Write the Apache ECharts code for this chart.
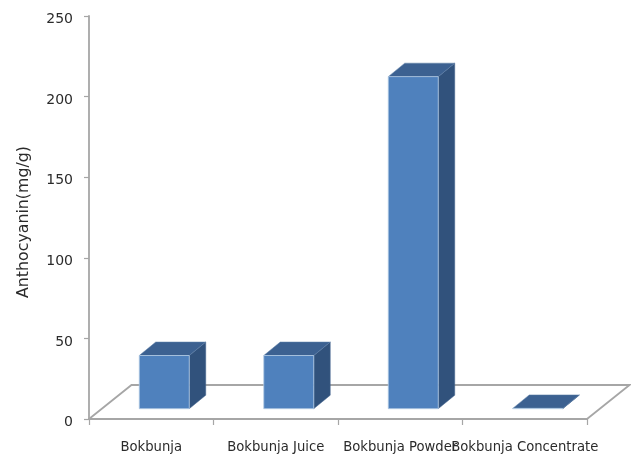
<!DOCTYPE html>
<html>
<head>
<meta charset="utf-8">
<style>html,body{margin:0;padding:0;background:#fff}#c{width:631px;height:454px}</style>
<script src="https://cdn.jsdelivr.net/npm/echarts@6/dist/echarts.min.js"></script>
</head>
<body>
<div id="c"></div>
<script>
const categories = ["Bokbunja", "Bokbunja Juice", "Bokbunja Powder", "Bokbunja Concentrate"];
const anthocyanin = [33, 33, 206, 0.2];
const yTicks = { min: 0, max: 250, interval: 50 };
const yName = "Anthocyanin(mg/g)";

const chart = echarts.init(document.getElementById('c'), null, { renderer: 'canvas' });
const barW = 50, barShift = 13, liftY = 10.3, dx = 16.5, dy = 13.5, floorDx = 42.5, floorDy = 34;
const axisGrey = '#a6a6a6';
const textCol = '#2b2b2b';
const font = 'DejaVu Sans';

function renderFloor(params) {
  const g = params.coordSys;
  const yb = g.y + g.height;
  return {
    type: 'polyline', silent: true,
    shape: { points: [[g.x, yb], [g.x + floorDx, yb - floorDy], [g.x + g.width + floorDx, yb - floorDy], [g.x + g.width, yb]] },
    style: { fill: null, stroke: axisGrey, lineWidth: 1.8 }
  };
}
function renderBar(params, api) {
  const idx = api.value(0), top = api.coord([idx, api.value(1)]), base = api.coord([idx, 0]);
  const x0 = top[0] + barShift - barW / 2, x1 = x0 + barW;
  const yt = top[1] - liftY, yb = base[1] - liftY;
  const children = [];
  children.push({ type: 'polygon', shape: { points: [[x1, yt], [x1 + dx, yt - dy], [x1 + dx, yb - dy], [x1, yb]] },
    style: { fill: '#31527c', stroke: '#4a6a92', lineWidth: 0.5 } });
  children.push({ type: 'polygon', shape: { points: [[x0, yt], [x0 + dx, yt - dy], [x1 + dx, yt - dy], [x1, yt]] },
    style: { fill: '#3c6191', stroke: '#5f80a8', lineWidth: 0.5 } });
  children.push({ type: 'rect', shape: { x: x0, y: yt, width: barW, height: yb - yt },
    style: { fill: '#4f81bd', stroke: '#b4cbe4', lineWidth: 0.8 } });
  return { type: 'group', children };
}

chart.setOption({
  animation: false,
  backgroundColor: '#fff',
  grid: { left: 89, right: 44, top: 16, bottom: 35, containLabel: false, outerBoundsMode: 'none' },
  xAxis: {
    type: 'category', data: categories,
    axisLine: { lineStyle: { color: axisGrey, width: 1.8 } },
    axisTick: { show: true, alignWithLabel: false, length: 6, lineStyle: { color: axisGrey, width: 1.2 } },
    axisLabel: { interval: 0, hideOverlap: false, margin: 22, fontSize: 13.2, color: textCol, fontFamily: font },
    splitLine: { show: false }
  },
  yAxis: {
    type: 'value', min: yTicks.min, max: yTicks.max, interval: yTicks.interval,
    name: yName, nameLocation: 'middle', nameGap: 57, nameRotate: 90,
    nameTextStyle: { fontSize: 15.8, color: textCol, fontFamily: font, padding: [0, 9, 0, 0] },
    axisLine: { show: true, lineStyle: { color: axisGrey, width: 1.8 } },
    axisTick: { show: true, length: 5, lineStyle: { color: axisGrey, width: 1.2 } },
    axisLabel: { margin: 16, fontSize: 14, color: textCol, fontFamily: font, verticalAlign: 'top', lineHeight: 7 },
    splitLine: { show: false }
  },
  series: [
    { type: 'custom', z: 1, silent: true, renderItem: renderFloor, data: [0], encode: { x: 0, y: 0 } },
    { type: 'custom', z: 2, renderItem: renderBar,
      data: anthocyanin.map((v, i) => [i, v]), encode: { x: 0, y: 1 } }
  ]
});
</script>
</body>
</html>
